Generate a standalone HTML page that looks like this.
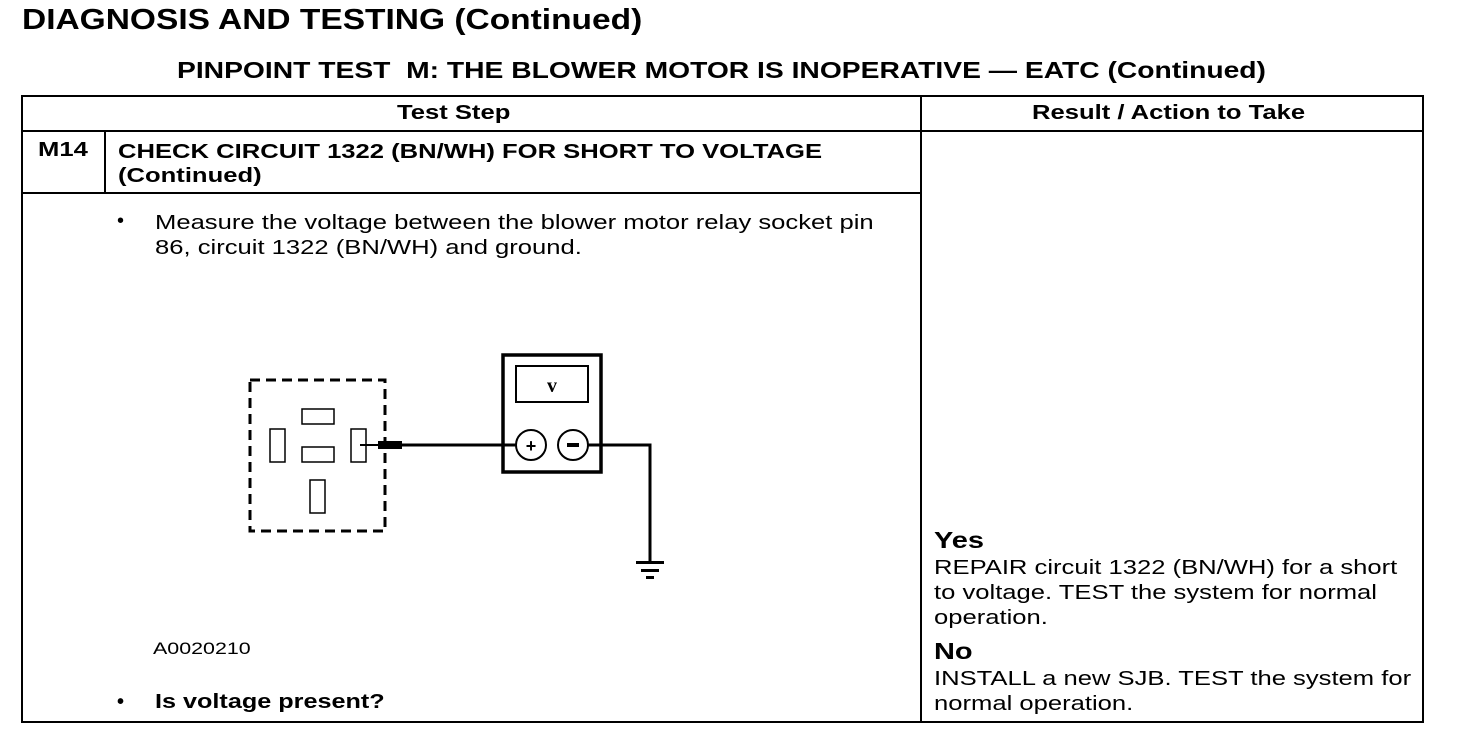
<!DOCTYPE html>
<html><head><meta charset="utf-8"><style>
body{margin:0;width:1472px;height:736px;background:#fff;position:relative;overflow:hidden;font-family:"Liberation Sans",Arial,sans-serif;color:#000}
.t{position:absolute;white-space:nowrap;line-height:1;transform-origin:0 0;transform:scaleX(1.28)}
.b{font-weight:bold}
.l{position:absolute;background:#000}
</style></head><body>
<div class="t b" style="left:22px;top:6px;font-size:29px;transform:scaleX(1.155)">DIAGNOSIS AND TESTING (Continued)</div>
<div class="t b" style="left:177px;top:59px;font-size:23px;transform:scaleX(1.228)">PINPOINT TEST&nbsp; M: THE BLOWER MOTOR IS INOPERATIVE — EATC (Continued)</div>

<div style="position:absolute;left:21px;top:95px;width:1399px;height:624px;border:2px solid #000"></div>
<div class="l" style="left:920px;top:95px;width:2px;height:626px"></div>
<div class="l" style="left:21px;top:130px;width:1401px;height:2px"></div>
<div class="l" style="left:21px;top:192px;width:901px;height:2px"></div>
<div class="l" style="left:104px;top:130px;width:2px;height:64px"></div>

<div class="t b" style="left:397px;top:103px;font-size:20px">Test Step</div>
<div class="t b" style="left:1032px;top:103px;font-size:20px">Result / Action to Take</div>
<div class="t b" style="left:38px;top:140px;font-size:20px">M14</div>
<div class="t b" style="left:118px;top:140px;font-size:20px;line-height:24px">CHECK CIRCUIT 1322 (BN/WH) FOR SHORT TO VOLTAGE<br>(Continued)</div>

<div class="t" style="left:117px;top:211px;font-size:20px;transform:none">•</div>
<div class="t" style="left:155px;top:211px;font-size:20px;line-height:25px">Measure the voltage between the blower motor relay socket pin<br>86, circuit 1322 (BN/WH) and ground.</div>
<div class="t" style="left:153px;top:640px;font-size:17px;transform:scaleX(1.26)">A0020210</div>
<div class="t b" style="left:117px;top:692px;font-size:20px;transform:none">•</div>
<div class="t b" style="left:155px;top:692px;font-size:20px;transform:scaleX(1.26)">Is voltage present?</div>

<div class="t b" style="left:934px;top:529px;font-size:23px;transform:scaleX(1.26)">Yes</div>
<div class="t" style="left:934px;top:556px;font-size:20px;line-height:25px">REPAIR circuit 1322 (BN/WH) for a short<br>to voltage. TEST the system for normal<br>operation.</div>
<div class="t b" style="left:934px;top:640px;font-size:23px;transform:scaleX(1.26)">No</div>
<div class="t" style="left:934px;top:667px;font-size:20px;line-height:25px">INSTALL a new SJB. TEST the system for<br>normal operation.</div>

<svg style="position:absolute;left:0;top:0" width="1472" height="736">
<rect x="250" y="380" width="135" height="151" fill="none" stroke="#000" stroke-width="3" stroke-dasharray="10,6"/>
<g fill="none" stroke="#000" stroke-width="1.5">
<rect x="302" y="409" width="32" height="15"/>
<rect x="270" y="429" width="15" height="33"/>
<rect x="302" y="447" width="32" height="15"/>
<rect x="351" y="429" width="15" height="33"/>
<rect x="310" y="480" width="15" height="33"/>
</g>
<line x1="360" y1="445" x2="380" y2="445" stroke="#000" stroke-width="2"/>
<rect x="378" y="441" width="24" height="8" fill="#000"/>
<line x1="402" y1="445" x2="516" y2="445" stroke="#000" stroke-width="3"/>
<rect x="503" y="355" width="98" height="117" fill="none" stroke="#000" stroke-width="3.5"/>
<rect x="516" y="366" width="72" height="36" fill="none" stroke="#000" stroke-width="2"/>
<text x="552" y="392" font-family="Liberation Serif,serif" font-weight="bold" font-size="20" text-anchor="middle">v</text>
<circle cx="531" cy="445" r="15" fill="#fff" stroke="#000" stroke-width="2"/>
<circle cx="573" cy="445" r="15" fill="#fff" stroke="#000" stroke-width="2"/>
<text x="531" y="452" font-family="Liberation Sans" font-weight="bold" font-size="18" text-anchor="middle">+</text>
<rect x="567" y="443" width="12" height="4" fill="#000"/>
<polyline points="588,445 650,445 650,562" fill="none" stroke="#000" stroke-width="3"/>
<rect x="636" y="561" width="28" height="3" fill="#000"/>
<rect x="641" y="569" width="18" height="3" fill="#000"/>
<rect x="646" y="576" width="8" height="3" fill="#000"/>
</svg>
</body></html>
